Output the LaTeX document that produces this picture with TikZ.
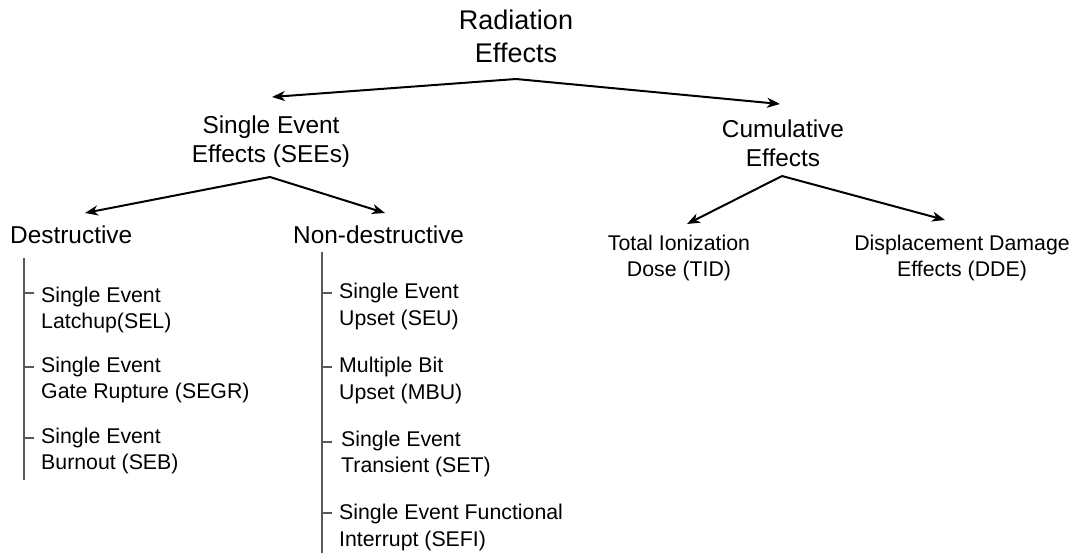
\documentclass[tikz,border=0pt]{standalone}
\usepackage{fontspec}
\setmainfont{Liberation Sans}
\usetikzlibrary{arrows.meta}
\begin{document}
\begin{tikzpicture}[x=1pt,y=-1pt,
  title/.style={inner sep=0pt,align=center,font=\fontsize{27}{33}\selectfont},
  cat/.style={inner sep=0pt,align=center,font=\fontsize{24.4}{29}\selectfont},
  leaf/.style={inner sep=0pt,align=left,anchor=west,font=\fontsize{21.3}{26.5}\selectfont},
  leafc/.style={inner sep=0pt,align=center,font=\fontsize{21.3}{26.5}\selectfont},
  link/.style={line width=2pt,-{Stealth[length=13pt,width=10pt,inset=4pt]}},
  rail/.style={line width=1.3pt,draw=black!65},
  tick/.style={line width=1.1pt,draw=black!65}]
\useasboundingbox (0,0) rectangle (1075,556);

% top level
\node[title] (root) at (516,36) {Radiation\\Effects};
\node[cat] (see) at (271,142) {Single Event\\Effects (SEEs)};
\node[cat] (cum) at (783,143) {Cumulative\\Effects};

% second level
\node[cat,anchor=west] (des) at (10,235) {Destructive};
\node[cat,anchor=west] (non) at (293,235) {Non-destructive};
\node[leafc] (tid) at (679,258) {Total Ionization\\Dose (TID)};
\node[leafc] (dde) at (962,258) {Displacement Damage\\Effects (DDE)};

% arrow fork points and tips
\coordinate (rootfork) at (516,79);
\coordinate (seetip) at (272,97);
\coordinate (cumtip) at (780,104);
\coordinate (seefork) at (270,177);
\coordinate (destip) at (85,213);
\coordinate (nontip) at (385,213);
\coordinate (cumfork) at (782,176);
\coordinate (tidtip) at (687,224);
\coordinate (ddetip) at (945,220);

\draw[link] (rootfork) -- (seetip);
\draw[link] (rootfork) -- (cumtip);
\draw[link] (seefork) -- (destip);
\draw[link] (seefork) -- (nontip);
\draw[link] (cumfork) -- (tidtip);
\draw[link] (cumfork) -- (ddetip);

% destructive list
\coordinate (drailtop) at (24,258);
\coordinate (drailbot) at (24,480);
\draw[rail] (drailtop) -- (drailbot);
\node[leaf] (sel) at (41,310) {Single Event\\Latchup(SEL)};
\node[leaf] (segr) at (41,380) {Single Event\\Gate Rupture (SEGR)};
\node[leaf] (seb) at (41,451) {Single Event\\Burnout (SEB)};
\foreach \y in {293,367,438}
  \draw[tick] (24,\y) -- (34,\y);

% non-destructive list
\coordinate (nrailtop) at (322,252);
\coordinate (nrailbot) at (322,553);
\draw[rail] (nrailtop) -- (nrailbot);
\node[leaf] (seu) at (339,306.5) {Single Event\\Upset (SEU)};
\node[leaf] (mbu) at (339,380.5) {Multiple Bit\\Upset (MBU)};
\node[leaf] (set) at (341,454) {Single Event\\Transient (SET)};
\node[leaf] (sefi) at (339,527.5) {Single Event Functional\\Interrupt (SEFI)};
\foreach \y in {293,367,442,513}
  \draw[tick] (322,\y) -- (332,\y);
\end{tikzpicture}
\end{document}
